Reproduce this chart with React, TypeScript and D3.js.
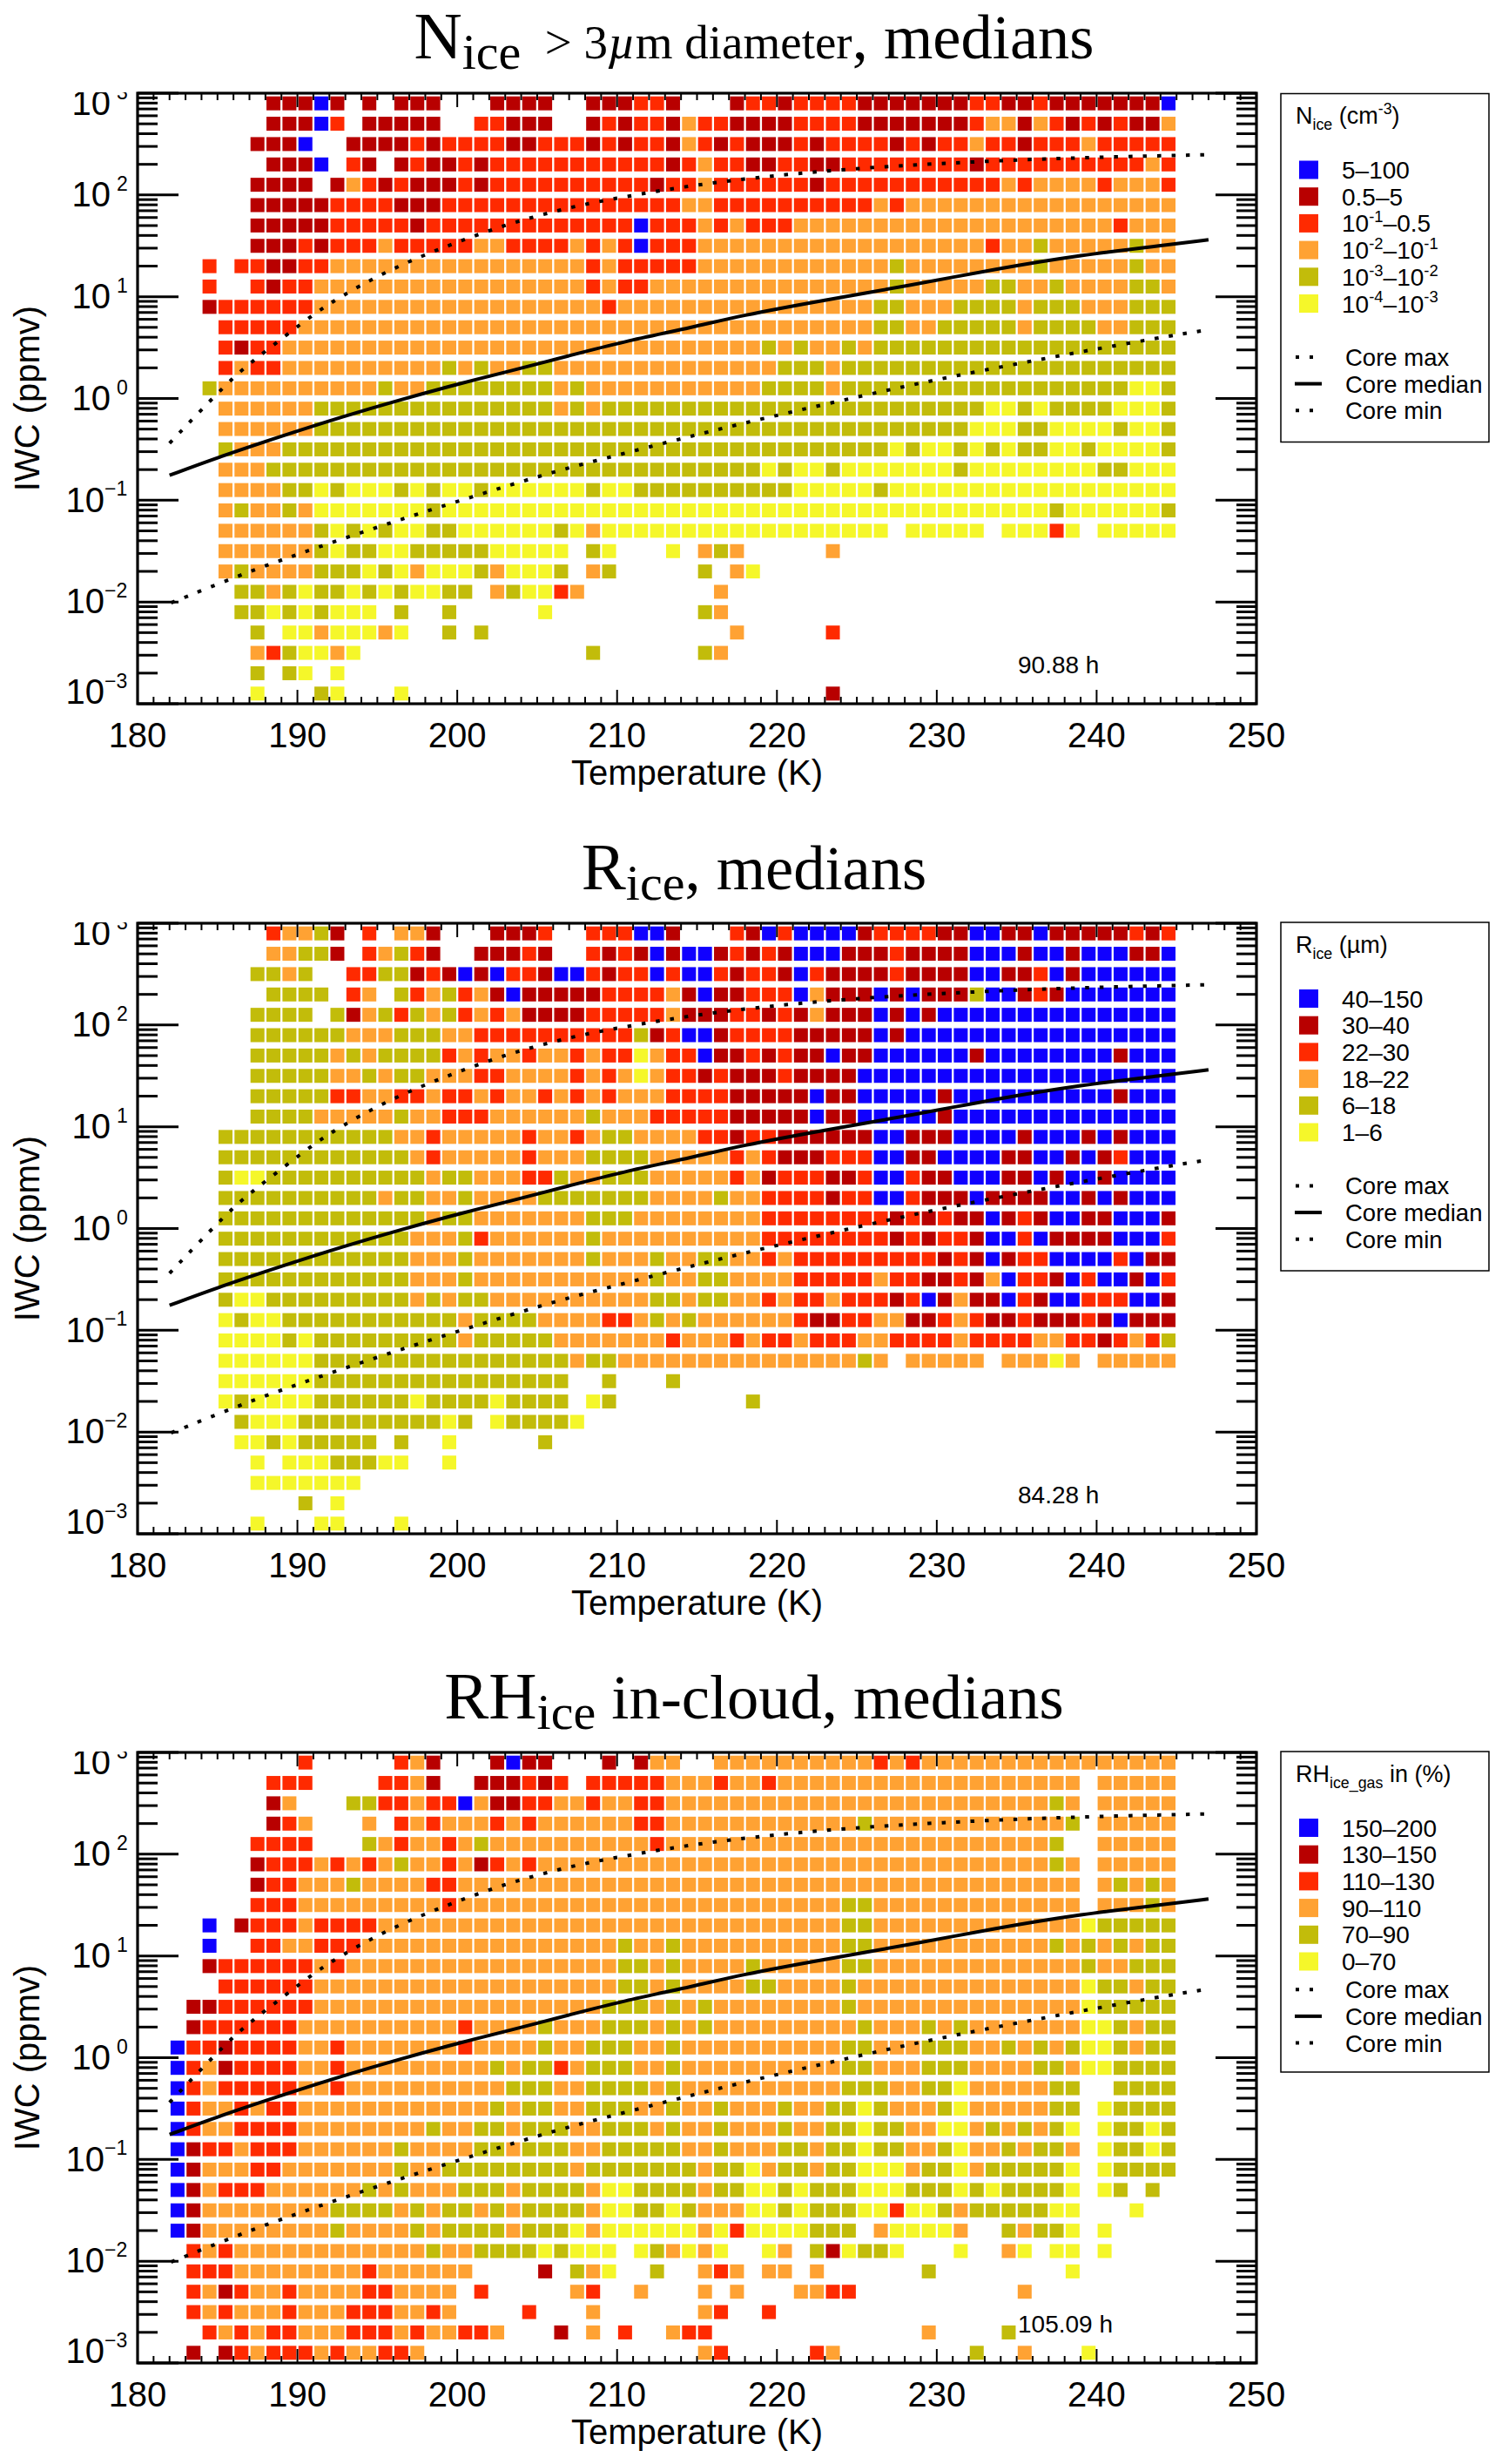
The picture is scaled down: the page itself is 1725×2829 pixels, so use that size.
import React from "react";
import * as d3 from "d3";

const WIDTH = 1725;
const HEIGHT = 2829;

// categories per cell: b,d,r,o,g,y = bins of the legend (top to bottom); "." = no data
const binKeys = ["b", "d", "r", "o", "g", "y"];
const binColors = ["#1000ff", "#b80000", "#ff2a00", "#ffa233", "#c2bc0a", "#f5f72a"];

const firstColumnK = 182; // each column spans 1 K, columns 182..244
const topRowLog = 2.9; // rows step 0.2 decades downward

// Columns grouped: 182-189, 190-199, 200-209, 210-219, 220-229, 230-239, 240-244
const nIceRows = [
  "......dd dbd.d.ddd. ..dddd..dd drrd...drr drrrrddddd ddrrddrddd ddddb",
  "......dd dbr.ddddd. .rrddd..dr drrdorrddd drrrrddddd ddroodordr drddo",
  ".....ddd b..ddddrdr rrrddrrrdr drrdordrdd drdrrrrdrd rrorrdrrro rrrrr",
  "......dd db.rd.drdd rdrrrrrrrr rrrdrorrdd rrddrrrrrr rrdrrrrrrr rrror",
  ".....ddd d.dordrddd rdrrrrrrrr rrdrrorrrr rrdrrrrrrr rrrroroooo rooor",
  ".....ddd ddrrrrdddr rrrrrrrrrr rrrroorrrr rrrrrroroo oooooooooo ooooo",
  ".....ddd ddrrrrrdrr rrrrrrrrrr rbrrrororr rooooooooo oooooooooo orooo",
  ".....ddd rdrrrorrrr roorrrroro rbrrrooooo oooooooooo oooroogooo oogoo",
  "..r.rrdd rroooooooo ooooooooro rrrrrooooo ooooooogoo oooooogooo oogoo",
  "..r..rdr rooooooooo ooooooooro rroooooooo ooooooogoo oooggoogoo ooggo",
  "..drrrrr rooooooooo ooooooooor oooooooooo ooooooggoo oggggogggo ooggg",
  "...rrrrr oooooooooo oooooooooo oooooooooo ooooooggoo gggggogggg ooggg",
  "...rdrro oooooooooo oooooooooo ooooooooog ogoogogggg gggggggggg ggggg",
  "...rorro ooooooooog ogooggoooo oooooooooo gggogggggg gggggggggg ggggg",
  "..gooooo ooooogoogg ggggggogoo ooooooooog gggogggggg gggggggggg ggyyg",
  "...ooooo oggggggggg ggggggogog gggggggggg gggggggggg gggyygyggg gyyyg",
  "...ooooo oggggggggg gggggggggg gggggggggg gggggggggg ggyyyggyyy ygyyg",
  "...gooog gggggggggg gggggggggg gggggggggg gggggggygy ygygyggyyg yyyyg",
  "...ooogg gggggggggg gggggggggg gggggggggy gyygyyyyyy ygyyyyyyyy ggyyy",
  "...oooog gygyyygygy ygyyyyyygy yggggggggg gyyyyygyyy yyyyyyyyyy yyyyy",
  "...ogoog oyyyyyyygy yyyyyyyyyy yyyyyyyyyy yyyyyyyyyy yyyyyyygyy yyyyg",
  "...ooooo ogygygyygg yyyyyygyoy yyyyyyyyyy yyyyyyy.yy yyy.yyyry. yyyyy",
  "...ooooo ogyggyyggg ggyyyyy.gy ...y.ogo.. ...o...... .......... .....",
  "...ogooo ogggygyoyy ygoyyyg.og .....g.oy. .......... .......... .....",
  "....ggog yggygygyyg g.ogyyro.. ......o... .......... .......... .....",
  "....ggyg ygyyy.g..g .....y.... .....go... .......... .......... .....",
  ".....g.y yoyyyoy..g .g........ .......o.. ...r...... .......... .....",
  ".....org yyoy...... ........g. .....go... .......... .......... .....",
  ".....g.g y.y....... .......... .......... .......... .......... .....",
  ".....y.. .gy...y... .......... .......... ...d...... .......... .....",
];

const rIceRows = [
  "......ro ogd.r.ood. ..dddr..rr rbbd...rdb rbbbbdrrrr ddbbddbddd ddrdr",
  "......oo ggd.rogrd. .dddrd..rd rdbdbbdrdr dbbbdddrdd ddbbbdbbdb bbddb",
  ".....ggo g..rrggdrd bdbrrdbbrd rrbrbbrdrr dbrddddrdd ddbbddrbdb bbbbb",
  "......gg gg.ro.grog rodbdddddr rrrodbddrr rbodddbdbd ddgbbdrdbb bbbbb",
  ".....ggg g.gdogrgog roroddddrr rrrodddrrd rdodddbdbd bbbbbbbbbb bbbbb",
  ".....ggg gggooogggo orrrrrrrrr rgdrbbdrrr rdddddbdbb bbbbbbbbbb bbbbb",
  ".....ggg ggogoggggr oroorooror ryorrbddrd rddbddbbbb bbdbbbbbbb bdbbb",
  ".....ggg ggoogoggoo orrooooror oyorrdrddd rddddbbbbb bbbbbbbbbb bbbbb",
  ".....ggg ggrroorror roroororor ooorrrrddd ddbddbbbbb dbbbbbbbbb bdbbb",
  ".....ggg gooooogoor rroooooogo oorrrrrddd ddbddbbbbb dbbbbbbbbb bbbbb",
  "...ggggg ggggggooro ooooroorog goooorrdrr ddddddbbdd dbbbbdbbbd bdbbb",
  "...ggggg gggggggoro oooorooogg ggoooooror dddrrrbbdd bbbbddbbdb drbbb",
  "...gyygg ggggggggog gooorrgoog ggooooorod rrrddrbbrd dbbbddbdbb dbbbb",
  "...ggggg gggggoggoo gooooggggg ggoooogoor rrrdrrbbrd ddbddddbbd bdbbb",
  "...ggggg ggggggggog gooooooogg goooooooor rrrrrrrdrd rddbdrdbbd dbbbd",
  "...ggggg gggggggooo groooooogo ooooooooor rrrrrrrdrd rrdbbrbddd dbbbr",
  "...ggggg gggggggooo gooooooogo oogooggoor orrrrrrrrr drdbdrrbbb brbdd",
  "...ggggg gggggggooo gooooooooo oogooggooo orrrrrorrd drdobrrdbr bbdbr",
  "...gyygg gggggggogo ggoooooooo ooggoggoor orrorrrdrb doddbrdbbr rrbbd",
  "...ygyyg gggggggggg oggggoooor rogogooooo orddrroodd rorddrdddr dbddd",
  "...yyyyg yggggggggg ogggggoooo ooorooo ror rorrroorrr rorrrroorr drorg",
  "...yyyyy yggggggggg gggggggogg oooooooooo ooooogo.oo ooo.oooyo. ooooo",
  "...yyyyy yggggggggg ggggggg..g ...g...... .......... .......... .....",
  "...ygyyy yggggggygg ggygggg.yg ........g. .......... .......... .....",
  "....gyyy gggggggggy g.yggggy.. .......... .......... .......... .....",
  "....yygy ggggg.g..y .....g.... .......... .......... .......... .....",
  ".....y.y yygggyy..y .......... .......... .......... .......... .....",
  ".....yyy yyyy...... .......... .......... .......... .......... .....",
  "........ g.y....... .......... .......... .......... .......... .....",
  ".....y.. .yy...y... .......... .......... .......... .......... .....",
];

const rhIceRows = [
  "........ r.....rod. ..dbdd...d .doo..oooo oooooororo oooooooooo ooooo",
  "......rr r....rrod. .dddrdr.rr rrrooo roor oooooooooo ooooooooo. ooooo",
  "......do ...ggrrorr boddrr ooro orrooooooo oooooooooo ooooooogo. ooooo",
  "......dr o...o.roro oororooooo orrooooooo ooooogoooo oooooooog. ooooo",
  ".....rrr r...goroor ogoooooooo oorooooooo oooooooooo ooooooog.. ooooo",
  ".....drr rororogoor odrorooooo oooooooooo oooooooooo ooooooogo. ooooo",
  ".....drr ooogoooorr oooooooooo oooooooooo oooooooooo ooooooooo. ogogo",
  ".....rrr ooooooooor oooooooooo oooooooooo ooooggoooo ooooooooo. ooogo",
  "..b.drrr orrrrooooo oooooooooo oooooooooo ooooggoooo oooooooooy ggggg",
  "..b..rro orrroooooo oooooooooo googoooooo ooooggoooo ooooooogog ogogg",
  "..drrrrr rorooooooo oooooooooo ggogoooogo ooooggoooo ooooooooog ooggg",
  "...rrrrr rooooooooo oooooooooo ggogoooogg oooogooooo oooooooooy ggogg",
  ".ddrrrrr rooooooooo ooooooooog ggogogoooo oooogooooo oooooooooy ggggg",
  ".drrrrrr oooooooooo roooogooog ggogogoooo ooooogooog ogoooooooy ygogg",
  "brrdrrrr oorooooooo roooogoogg googoooooo ooooggooog ggoogogogy ygogg",
  "brodrrrr oorooooooo oogoggrogg googoooooo ooooggooog ggooooggoy ygggg",
  "brorrrrr oorooooooo ooogggoogg ggogoooooo oooogggoog gyooooogg. .gggg",
  "broororr oooooooooo oogoggoogg googoogooo googgygooo gyooooogg. ygggg",
  "broorrrr oooooooogo oggogggoog ggogoogooo googgyggoo yyogogogy. yggyg",
  "bdrrorrr oooooogooo oggogggoog ggggoogooo ggoggyggoo gyoogoggo. yggyg",
  "bdooorro oooooogoog gggggggogg gggggoggyo ggoggyyyog gyogggggy. ygggg",
  "bdorrroo oooogogooo gggoggggoy yggggoggyy gygggyyygg gygyggggy. yg.g.",
  "bdoooooo ooggggogog gogoggggoy yggygoooyy gygggyyryy gogggggyy. ..y..",
  "bdoooooo oogoooogog gggogggyoy yyyyyoyryy yyggg.oyyy yo..goggy. y....",
  ".roroooo oooooooogo oggggygyyy .ygoyoy..y o.gdyggy.. .y..oy.yy. y....",
  ".rrroooo oooorooooo o....d.goy ..g..oro.o o.o......g ........y. .....",
  ".rodroor oooorroooo .r.....or. .o...o.o.. .oorr..... .....o.... .....",
  ".rorooor ooorrrooro ....r...o. .....or..r .......... .......... .....",
  "..rororr ooorrroroo rro...d.o. r..orr.... .........o ....g..... .....",
  ".d.drorr roroorro.. .......... .....or... ..ro...... ..g..o...y .....",
];

// Core curves: temperature (K) and log10 IWC (ppmv)
const coreMaxT = [182, 185.7, 187.1, 189.2, 191.2, 192.8, 195.1, 197.6, 200, 202.5, 205.1, 207.8, 210.3, 213.9, 218.3, 223.7, 229, 234.3, 239.6, 246.8];
const coreMaxLog = [-0.44, 0.17, 0.355, 0.61, 0.85, 1.01, 1.21, 1.39, 1.536, 1.68, 1.8, 1.905, 1.977, 2.076, 2.167, 2.247, 2.3, 2.34, 2.37, 2.395];
const coreMedianT = [182, 185, 189, 193, 196.5, 200, 203.3, 207, 210.3, 214.9, 217.6, 222.9, 228.3, 233.6, 239, 244.5, 247];
const coreMedianLog = [-0.755, -0.58, -0.37, -0.17, -0.01, 0.14, 0.27, 0.42, 0.555, 0.705, 0.81, 0.965, 1.11, 1.27, 1.41, 1.51, 1.56];
const coreMinT = [182.1, 186.25, 189.6, 192.9, 196.3, 199.7, 203.2, 206.5, 210, 213.5, 217.8, 223, 228.2, 233.4, 238.7, 243.9, 246.6];
const coreMinLog = [-2.008, -1.745, -1.552, -1.376, -1.197, -1.027, -0.855, -0.7, -0.557, -0.416, -0.245, -0.057, 0.128, 0.293, 0.45, 0.597, 0.666];

const xMajorTicks = [180, 190, 200, 210, 220, 230, 240, 250];
const yDecades = [-3, -2, -1, 0, 1, 2, 3];

const nIceLegend = ["5–100", "0.5–5", "10^{-1}–0.5", "10^{-2}–10^{-1}", "10^{-3}–10^{-2}", "10^{-4}–10^{-3}"];
const rIceLegend = ["40–150", "30–40", "22–30", "18–22", "6–18", "1–6"];
const rhIceLegend = ["150–200", "130–150", "110–130", "90–110", "70–90", "0–70"];
const coreLegend = ["Core max", "Core median", "Core min"];

const SANS = "'Liberation Sans', Arimo, Helvetica, sans-serif";
const SERIF = "'Liberation Serif', Times, serif";

type Seg = { t: string; size: number; shift?: number; italic?: boolean };

function Rich({ x, y, segs, anchor, family }: { x: number; y: number; segs: Seg[]; anchor?: string; family: string }) {
  let cur = 0;
  return (
    <text x={x} y={y} textAnchor={anchor || "start"} fontFamily={family} fill="#000" style={{ whiteSpace: "pre" }}>
      {segs.map((s, i) => {
        const want = s.shift || 0;
        const dy = want - cur;
        cur = want;
        return (
          <tspan key={i} dy={dy} fontSize={s.size} fontStyle={s.italic ? "italic" : "normal"}>
            {s.t}
          </tspan>
        );
      })}
    </text>
  );
}

function markup(str: string, size: number): Seg[] {
  const out: Seg[] = [];
  const re = /\^\{([^}]*)\}|_\{([^}]*)\}|([^\^_]+)/g;
  let m: RegExpExecArray | null;
  while ((m = re.exec(str))) {
    if (m[1] !== undefined) out.push({ t: m[1], size: size * 0.66, shift: -size * 0.4 });
    else if (m[2] !== undefined) out.push({ t: m[2], size: size * 0.66, shift: size * 0.27 });
    else out.push({ t: m[3], size });
  }
  return out;
}

type PanelProps = {
  top: number;
  rows: string[];
  titleSegs: Seg[];
  legendTitle: string;
  legendItems: string[];
  compact: boolean;
  hours: string;
  index: number;
};

function Panel({ top, rows, titleSegs, legendTitle, legendItems, compact, hours, index }: PanelProps) {
  const bottom = top + 701;
  const x = d3.scaleLinear().domain([180, 250]).range([158, 1443]);
  const y = d3.scaleLog().domain([1e-3, 1e3]).range([bottom, top]);
  const lineGen = d3
    .line<[number, number]>()
    .x((d) => x(d[0]))
    .y((d) => y(Math.pow(10, d[1])))
    .curve(d3.curveBasis);
  const pts = (a: number[], b: number[]) => a.map((t, i) => [t, b[i]] as [number, number]);

  const xMinor = d3.range(180, 251).filter((v) => v % 10 !== 0);
  const yMinor: number[] = [];
  yDecades.slice(0, -1).forEach((d) => {
    for (let k = 2; k < 10; k++) yMinor.push(k * Math.pow(10, d));
  });

  const cellW = 16;
  const cellH = 16;
  const clipId = `topclip${index}`;
  const lx = 1471;
  const lw = 239;
  const lh = compact ? 368 : 400;
  const legendTop = index === 0 ? top : top - 1.5;
  const rowY = (i: number) => legendTop + 88 + i * 30.7;
  const coreStart = compact ? 6 : 7;
  const coreNudge = compact ? 1.5 : 0;

  return (
    <g>
      <defs>
        <clipPath id={clipId}>
          <rect x={0} y={top - 1} width={158} height={60} />
        </clipPath>
      </defs>
      <Rich x={866} y={top - 40.5 + (index === 0 ? 0 : 1.5)} segs={titleSegs} anchor="middle" family={SERIF} />

      {rows.map((row, r) => {
        const clean = row.replace(/\s/g, "");
        const logCentre = topRowLog - 0.2 * r;
        const cy = y(Math.pow(10, logCentre));
        return clean.split("").map((c, i) => {
          const bin = binKeys.indexOf(c);
          if (bin < 0) return null;
          const cx = x(firstColumnK + i + 0.5);
          return <rect key={`${r}-${i}`} x={cx - cellW / 2} y={cy - cellH / 2} width={cellW} height={cellH} fill={binColors[bin]} />;
        });
      })}

      <g stroke="#000" strokeWidth={2} fill="none">
        {xMinor.map((v) => (
          <g key={v}>
            <line x1={x(v)} x2={x(v)} y1={bottom} y2={bottom - 8} />
            <line x1={x(v)} x2={x(v)} y1={top} y2={top + 8} />
          </g>
        ))}
        {xMajorTicks.map((v) => (
          <g key={v}>
            <line x1={x(v)} x2={x(v)} y1={bottom} y2={bottom - 16} />
            <line x1={x(v)} x2={x(v)} y1={top} y2={top + 16} />
          </g>
        ))}
      </g>
      <g stroke="#000" strokeWidth={3} fill="none">
        {yMinor.map((v) => (
          <g key={v}>
            <line x1={158} x2={181} y1={y(v)} y2={y(v)} />
            <line x1={1443} x2={1420} y1={y(v)} y2={y(v)} />
          </g>
        ))}
        {yDecades.map((d) => (
          <g key={d}>
            <line x1={158} x2={205} y1={y(Math.pow(10, d))} y2={y(Math.pow(10, d))} />
            <line x1={1443} x2={1396} y1={y(Math.pow(10, d))} y2={y(Math.pow(10, d))} />
          </g>
        ))}
      </g>
      <rect x={158} y={top} width={1285} height={701} fill="none" stroke="#000" strokeWidth={3.2} />

      <path d={lineGen(pts(coreMaxT, coreMaxLog)) || ""} fill="none" stroke="#000" strokeWidth={4} strokeDasharray="4.5 12" />
      <path d={lineGen(pts(coreMinT, coreMinLog)) || ""} fill="none" stroke="#000" strokeWidth={4} strokeDasharray="4.5 12" />
      <path d={lineGen(pts(coreMedianT, coreMedianLog)) || ""} fill="none" stroke="#000" strokeWidth={4} />

      {xMajorTicks.map((v) => (
        <text key={v} x={x(v)} y={bottom + 50} textAnchor="middle" fontFamily={SANS} fontSize={40} fill="#000">
          {v}
        </text>
      ))}
      {yDecades.map((d) => {
        const ty = y(Math.pow(10, d));
        const neg = d < 0;
        const off = d === 3 ? 11.5 : d === -3 ? -13 : 0;
        const baseX = neg ? 120 : 127;
        const label = (
          <g key={d}>
            <text x={baseX} y={ty + 13.3 + off} textAnchor="end" fontFamily={SANS} fontSize={40} fill="#000">
              10
            </text>
            <text x={neg ? 120 : 134} y={ty - 5 + off} fontFamily={SANS} fontSize={23} fill="#000">
              {neg ? `−${-d}` : `${d}`}
            </text>
          </g>
        );
        return d === 3 ? (
          <g key={d} clipPath={`url(#${clipId})`}>
            {label}
          </g>
        ) : (
          label
        );
      })}
      <text x={800.5} y={bottom + 93} textAnchor="middle" fontFamily={SANS} fontSize={40} fill="#000">
        Temperature (K)
      </text>
      <text
        transform={`translate(45,${(top + bottom) / 2}) rotate(-90)`}
        textAnchor="middle"
        fontFamily={SANS}
        fontSize={40}
        fill="#000"
      >
        IWC (ppmv)
      </text>
      <text x={1169} y={bottom - 35} fontFamily={SANS} fontSize={28} fill="#000">
        {hours}
      </text>

      <rect x={lx} y={legendTop + 0.5} width={lw} height={lh} fill="#fff" stroke="#000" strokeWidth={1.5} />
      <Rich x={1488} y={legendTop + 35} segs={markup(legendTitle, 27)} family={SANS} />
      {legendItems.map((label, i) => (
        <g key={label}>
          <rect x={1492} y={rowY(i) - 10.5} width={22} height={21} fill={binColors[i]} />
          <Rich x={1541} y={rowY(i) + 10} segs={markup(label, 28)} family={SANS} />
        </g>
      ))}
      {coreLegend.map((label, i) => {
        const ly = rowY(coreStart + i) + coreNudge;
        return (
          <g key={label}>
            {i === 1 ? (
              <line x1={1487} x2={1518} y1={ly} y2={ly} stroke="#000" strokeWidth={4} />
            ) : (
              <line x1={1488} x2={1508} y1={ly} y2={ly} stroke="#000" strokeWidth={4} strokeDasharray="4 12" />
            )}
            <text x={1545} y={ly + 10} fontFamily={SANS} fontSize={27.5} fill="#000">
              {label}
            </text>
          </g>
        );
      })}
    </g>
  );
}

const BIG = 72.5;
const SUB = 58;
const MID = 55;

export default function App() {
  return (
    <svg
      width={WIDTH}
      height={HEIGHT}
      viewBox={`0 0 ${WIDTH} ${HEIGHT}`}
      style={{ position: "absolute", left: 0, top: 0, background: "#fff" }}
    >
      <Panel
        index={0}
        top={107}
        rows={nIceRows}
        titleSegs={[
          { t: "N", size: BIG + 4 },
          { t: "ice", size: SUB, shift: 12 },
          { t: "  > 3", size: MID },
          { t: "µ", size: MID, italic: true },
          { t: "m diameter", size: MID },
          { t: ", medians", size: BIG },
        ]}
        legendTitle="N_{ice} (cm^{-3})"
        legendItems={nIceLegend}
        compact={false}
        hours="90.88 h"
      />
      <Panel
        index={1}
        top={1060}
        rows={rIceRows}
        titleSegs={[
          { t: "R", size: BIG + 4 },
          { t: "ice", size: SUB, shift: 12 },
          { t: ", medians", size: BIG },
        ]}
        legendTitle="R_{ice} (µm)"
        legendItems={rIceLegend}
        compact={false}
        hours="84.28 h"
      />
      <Panel
        index={2}
        top={2012}
        rows={rhIceRows}
        titleSegs={[
          { t: "RH", size: BIG + 4 },
          { t: "ice", size: SUB, shift: 12 },
          { t: " in-cloud, medians", size: BIG },
        ]}
        legendTitle="RH_{ice_gas} in (%)"
        legendItems={rhIceLegend}
        compact={true}
        hours="105.09 h"
      />
    </svg>
  );
}
